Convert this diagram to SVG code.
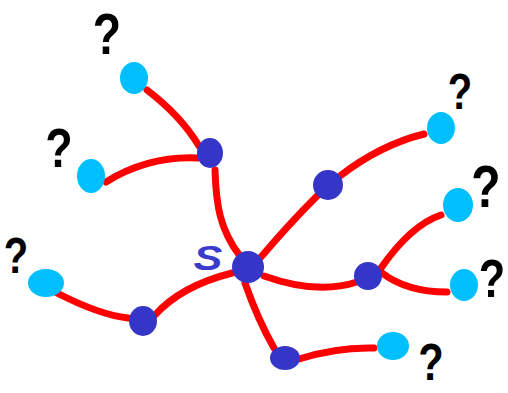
<svg xmlns="http://www.w3.org/2000/svg" width="508" height="393" viewBox="0 0 508 393">
<style>
.e{fill:none;stroke:#ff0000;stroke-width:7;stroke-linecap:round;stroke-linejoin:round}
.n{fill:#3535c8}
.l{fill:#00bfff}
.q{font-family:"Liberation Sans",Arial,sans-serif;font-weight:bold;fill:#000;text-anchor:middle}
.s{font-family:"Liberation Sans",Arial,sans-serif;font-weight:bold;font-style:italic;fill:#3a3acc;text-anchor:middle}
</style>
<rect width="508" height="393" fill="#fff"/>
<g id="connectors">
<path class="e" d="M147,90 Q181,116 199,146"/>
<path class="e" d="M106,182 Q148,156 197,158"/>
<path class="e" d="M215,170 C216,205 220,230 240,256"/>
<path class="e" d="M261,257 Q289,224 317,196"/>
<path class="e" d="M340,176 Q380,145 424,134"/>
<path class="e" d="M264,276 Q317,295 357,282"/>
<path class="e" d="M381,268 Q411,225 441,215"/>
<path class="e" d="M382,273 Q407,292 447,292"/>
<path class="e" d="M245,283 Q258,320 274,348"/>
<path class="e" d="M299,359 Q337,347 374,348"/>
<path class="e" d="M232,273 Q181,286 155,315"/>
<path class="e" d="M57,293 Q100,315 128,318"/>
</g>
<g id="S"><ellipse class="n" cx="248" cy="267" rx="16" ry="16"/><text class="s" transform="translate(208,270) scale(1.2,1)" font-size="36">S</text></g>
<g id="n1"><ellipse class="n" cx="210" cy="153" rx="13" ry="15"/></g>
<g id="n2"><ellipse class="n" cx="328" cy="185" rx="15" ry="15"/></g>
<g id="n3"><ellipse class="n" cx="368" cy="276" rx="14" ry="14"/></g>
<g id="n4"><ellipse class="n" cx="143" cy="321" rx="14" ry="15"/></g>
<g id="n5"><ellipse class="n" cx="285" cy="358" rx="15" ry="12"/></g>
<g id="l1"><ellipse class="l" cx="134" cy="78" rx="14" ry="16"/><text class="q" transform="translate(107,54) scale(0.8,1)" font-size="58">?</text></g>
<g id="l2"><ellipse class="l" cx="91" cy="176" rx="14" ry="17"/><text class="q" transform="translate(59,167) scale(0.8,1)" font-size="56">?</text></g>
<g id="l3"><ellipse class="l" cx="441" cy="128" rx="14" ry="16"/><text class="q" transform="translate(460,109) scale(0.8,1)" font-size="50">?</text></g>
<g id="l4"><ellipse class="l" cx="458" cy="205" rx="15" ry="17"/><text class="q" transform="translate(486,207) scale(0.8,1)" font-size="60">?</text></g>
<g id="l5"><ellipse class="l" cx="464" cy="285" rx="14" ry="16"/><text class="q" transform="translate(492,297) scale(0.8,1)" font-size="54">?</text></g>
<g id="l6"><ellipse class="l" cx="393" cy="346" rx="16" ry="14"/><text class="q" transform="translate(431,380) scale(0.8,1)" font-size="52">?</text></g>
<g id="l7"><ellipse class="l" cx="46" cy="283" rx="18" ry="14"/><text class="q" transform="translate(16,273) scale(0.8,1)" font-size="50">?</text></g>
</svg>
